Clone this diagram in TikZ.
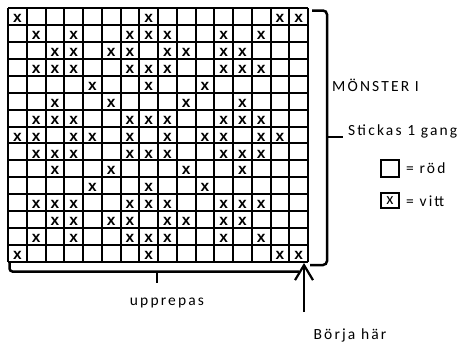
\documentclass[tikz,border=0pt]{standalone}
\usepackage{fontspec}
\setmainfont{Carlito}
\newfontfamily\labelfont{Carlito}[LetterSpace=14]
\newfontfamily\crossfont{Liberation Sans}
\usetikzlibrary{arrows.meta}

\begin{document}
\begin{tikzpicture}[
  x=1pt,y=-1pt,
  gridline/.style={line width=2pt,draw=black},
  brace/.style={line width=2.5pt,draw=black,rounded corners=3pt},
  cross/.style={inner sep=0pt,font=\fontsize{15.5}{15}\selectfont\crossfont\bfseries},
  label/.style={inner sep=0pt,anchor=west,font=\fontsize{15.5}{18}\selectfont\labelfont},
  keybox/.style={draw=black,line width=2pt,minimum width=18pt,inner sep=0pt,font=\fontsize{16.5}{16}\selectfont},
  pointer/.style={line width=2.2pt,draw=black,-{Straight Barb[length=15pt,width=18pt]}}
]
\useasboundingbox (0,0) rectangle (470,343);
% chart grid: 16 stitches, 15 rows
\foreach \c in {0,...,16}
  \draw[gridline] ({8+\c*18.75},8) -- ({8+\c*18.75},262);
\foreach \r in {0,...,15}
  \draw[gridline] (8,{8+\r*16.93}) -- (308,{8+\r*16.93});
% white stitches
\foreach \r/\cols in {1/{1,8,15,16},2/{2,4,7,8,9,12,14},3/{3,4,6,7,9,10,12,13},
    4/{2,3,4,7,8,9,12,13,14},5/{5,8,11},6/{3,6,10,13},7/{2,3,4,7,8,9,12,13,14},
    8/{1,2,4,5,7,9,11,12,14,15},9/{2,3,4,7,8,9,12,13,14},10/{3,6,10,13},
    11/{5,8,11},12/{2,3,4,7,8,9,12,13,14},13/{3,4,6,7,9,10,12,13},
    14/{2,4,7,8,9,12,14},15/{1,8,15,16}}
  \foreach \c in \cols
    \node[cross] (x-\r-\c) at ({8+(\c-0.5)*18.75},{8+(\r-0.5)*16.93+2}) {x};
% braces
\draw[brace] (9.5,262) -- (9.5,271.5) -- (299,271.5);
\draw[brace,rounded corners=0pt] (157,271.5) -- (157,283);
\draw[brace,rounded corners=4pt] (312,10.5) -- (327,10.5) -- (327,265) -- (310,265);
\draw[brace,rounded corners=0pt] (327,137) -- (343,137);
% labels
\node[label] (pattern) at (332,85) {MÖNSTER I};
\node[label] (once) at (348,131) {Stickas 1 gang};
\node[keybox,minimum height=17pt] (red) at (389.5,168.5) {};
\node[label] (redtext) at (406,168) {= röd};
\node[keybox,minimum height=15pt] (white) at (390,200.5) {x};
\node[label] (whitetext) at (406,201) {= vitt};
\node[label,anchor=center] (repeat) at (167,303) {upprepas};
\node[label,anchor=center] (start) at (350,335) {Börja här};
\coordinate (tail) at (304,312);
\coordinate (corner) at (304,263);
\draw[pointer] (tail) -- (corner);
\end{tikzpicture}
\end{document}
